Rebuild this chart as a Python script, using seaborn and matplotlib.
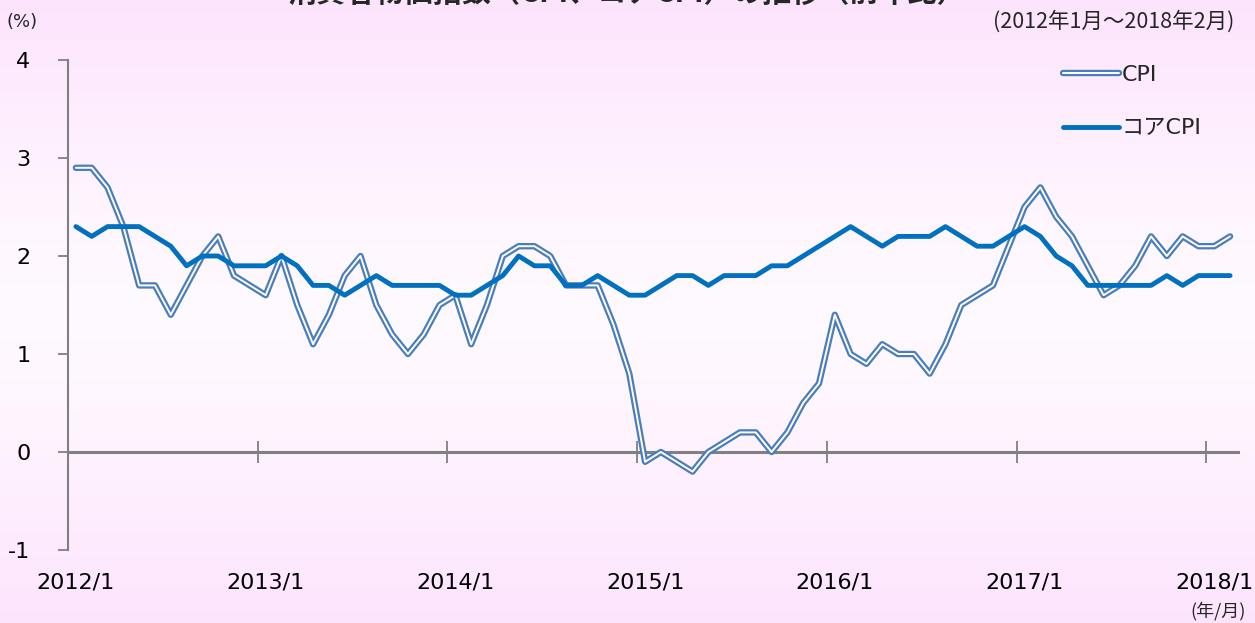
import numpy as np
import pandas as pd
import matplotlib
matplotlib.use("Agg")
import matplotlib.pyplot as plt
import matplotlib.patheffects as pe
import seaborn as sns

# ---- data (US CPI, YoY %, 2012/1 - 2018/2) ----
months = [f"{y}/{m}" for y in range(2012, 2019) for m in range(1, 13)][:74]
cpi = [2.9, 2.9, 2.7, 2.3, 1.7, 1.7, 1.4, 1.7, 2.0, 2.2, 1.8, 1.7,
       1.6, 2.0, 1.5, 1.1, 1.4, 1.8, 2.0, 1.5, 1.2, 1.0, 1.2, 1.5,
       1.6, 1.1, 1.5, 2.0, 2.1, 2.1, 2.0, 1.7, 1.7, 1.7, 1.3, 0.8,
       -0.1, 0.0, -0.1, -0.2, 0.0, 0.1, 0.2, 0.2, 0.0, 0.2, 0.5, 0.7,
       1.4, 1.0, 0.9, 1.1, 1.0, 1.0, 0.8, 1.1, 1.5, 1.6, 1.7, 2.1,
       2.5, 2.7, 2.4, 2.2, 1.9, 1.6, 1.7, 1.9, 2.2, 2.0, 2.2, 2.1,
       2.1, 2.2]
core_cpi = [2.3, 2.2, 2.3, 2.3, 2.3, 2.2, 2.1, 1.9, 2.0, 2.0, 1.9, 1.9,
            1.9, 2.0, 1.9, 1.7, 1.7, 1.6, 1.7, 1.8, 1.7, 1.7, 1.7, 1.7,
            1.6, 1.6, 1.7, 1.8, 2.0, 1.9, 1.9, 1.7, 1.7, 1.8, 1.7, 1.6,
            1.6, 1.7, 1.8, 1.8, 1.7, 1.8, 1.8, 1.8, 1.9, 1.9, 2.0, 2.1,
            2.2, 2.3, 2.2, 2.1, 2.2, 2.2, 2.2, 2.3, 2.2, 2.1, 2.1, 2.2,
            2.3, 2.2, 2.0, 1.9, 1.7, 1.7, 1.7, 1.7, 1.7, 1.8, 1.7, 1.8,
            1.8, 1.8]
series_names = ["CPI", "コアCPI"]
x_labels = ["2012/1", "2013/1", "2014/1", "2015/1", "2016/1", "2017/1", "2018/1"]
y_ticks = [-1, 0, 1, 2, 3, 4]

title = "消費者物価指数（CPI、コアCPI）の推移（前年比）"
period = "(2012年1月～2018年2月)"

# ---- style ----
sns.set_style("white")
plt.rcParams["font.family"] = ["DejaVu Sans", "Noto Sans CJK JP"]

W, H = 1255, 623
fig = plt.figure(figsize=(W / 100, H / 100), dpi=100)

# background gradient (pink at top/bottom, paler in the middle)
bg = fig.add_axes([0, 0, 1, 1], zorder=-10)
t = np.linspace(0, 1, 256)
c_edge = np.array([253, 228, 253]) / 255
c_mid = np.array([255, 250, 255]) / 255
w = np.abs(t - 0.5) * 2
w = w ** 1.3
grad = (c_mid[None, :] * (1 - w[:, None]) + c_edge[None, :] * w[:, None])
bg.imshow(grad[:, None, :], aspect="auto", extent=[0, 1, 0, 1])
bg.set_axis_off()

ax = fig.add_axes([68 / W, 1 - 550 / H, (1238 - 68) / W, (550 - 60) / H])
ax.set_facecolor("none")

df = pd.DataFrame({"idx": np.arange(len(months)), "month": months,
                   "CPI": cpi, "コアCPI": core_cpi})
long = df.melt(id_vars=["idx", "month"], value_vars=series_names,
               var_name="series", value_name="value")

cpi_blue = "#4A7EBB"
core_blue = "#0070C0"

sns.lineplot(data=long[long.series == "CPI"], x="idx", y="value", ax=ax,
             color="white", linewidth=1.4, label="CPI", zorder=3,
             solid_joinstyle="round")
sns.lineplot(data=long[long.series == "コアCPI"], x="idx", y="value", ax=ax,
             color=core_blue, linewidth=3.5, label="コアCPI", zorder=4,
             solid_joinstyle="round")
cpi_effects = [pe.Stroke(linewidth=4.6, foreground=cpi_blue, joinstyle="round"),
               pe.Normal()]
ax.lines[0].set_path_effects(cpi_effects)

n = len(months)
ax.set_xlim(-0.5, n - 0.5)
ax.set_ylim(-1, 4)

gray = "#808080"
for s in ["top", "right"]:
    ax.spines[s].set_visible(False)
ax.spines["left"].set_color(gray)
ax.spines["left"].set_linewidth(1.5)
ax.spines["bottom"].set_position(("data", 0))
ax.spines["bottom"].set_color(gray)
ax.spines["bottom"].set_linewidth(2.2)

ax.set_yticks(y_ticks)
ax.set_yticklabels([str(v) for v in y_ticks])
ax.tick_params(axis="y", direction="out", length=7, width=1.3, color=gray,
               pad=20, labelsize=16, labelcolor="black", left=True)

ax.set_xticks(np.arange(-0.5, n, 12))
ax.set_xticklabels([])
ax.set_xticks(np.arange(0, n, 12), minor=True)
ax.set_xticklabels(x_labels, minor=True)
ax.tick_params(axis="x", which="major", direction="inout", length=16,
               width=1.3, color=gray, bottom=True)
ax.tick_params(axis="x", which="minor", length=0, pad=87, labelsize=16,
               labelcolor="black", bottom=True)
ax.set_xlabel("")
ax.set_ylabel("")

leg = ax.legend(loc="upper left", bbox_to_anchor=(1063 / W, 1 - 65 / H),
                bbox_transform=fig.transFigure, frameon=False, fontsize=16,
                handlelength=2.5, handletextpad=0.15, labelspacing=1.5,
                borderpad=0, borderaxespad=0)
leg.get_lines()[0].set_path_effects(cpi_effects)

fig.text(627 / W, 1 - 2 / H, title, ha="center", va="baseline",
         fontsize=21, fontweight="bold", family=["Noto Sans CJK JP"])
fig.text(22 / W, 1 - 22 / H, "(%)", ha="center", va="center", fontsize=13)
fig.text(1234 / W, 1 - 22 / H, period, ha="right", va="center", fontsize=15.5,
         family=["Noto Sans CJK JP", "DejaVu Sans"])
fig.text(1246 / W, 1 - 611 / H, "(年/月)", ha="right", va="center",
         fontsize=13, family=["Noto Sans CJK JP", "DejaVu Sans"])

fig.savefig("out.png", dpi=100)
